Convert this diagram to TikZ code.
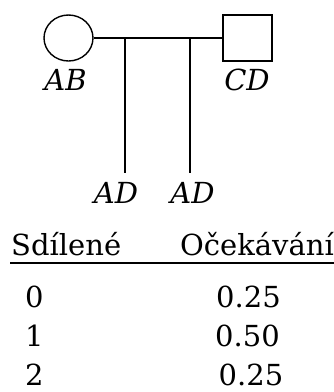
\documentclass[tikz,border=0pt]{standalone}
\usepackage{fontspec}
\setmainfont{DejaVu Serif}
\usetikzlibrary{shapes.geometric}
\tikzset{
  person/.style={draw, line width=1.4pt, inner sep=0pt, minimum width=49pt, minimum height=46pt},
  female/.style={person, ellipse},
  male/.style={person, rectangle},
  link/.style={line width=1.4pt},
  lbl/.style={inner sep=0pt, anchor=base, font=\fontsize{29}{34}\selectfont\itshape},
  txt/.style={inner sep=0pt, font=\fontsize{29}{34}\selectfont},
}
\begin{document}
\begin{tikzpicture}[x=1pt, y=-1pt]
  \useasboundingbox (0,0) rectangle (334,392);
  % parents
  \node[female] (mother) at (68.5,38) {};
  \node[male]   (father) at (247.5,38) {};
  \draw[link] (mother.east) -- (father.west);
  % children hanging from the mating line
  \coordinate (c1top) at (125,38);
  \coordinate (c1end) at (125,173);
  \coordinate (c2top) at (190,38);
  \coordinate (c2end) at (190,173);
  \draw[link] (c1top) -- (c1end);
  \draw[link] (c2top) -- (c2end);
  % genotypes
  \node[lbl] (gAB) at (65.5,90) {AB};
  \node[lbl] (gCD) at (247,90) {CD};
  \node[lbl] (gAD1) at (116,203) {AD};
  \node[lbl] (gAD2) at (192.5,203) {AD};
  % table of shared alleles
  \node[txt, anchor=base west] (h1) at (11,255) {Sdílené};
  \node[txt, anchor=base east] (h2) at (334,255) {Očekávání};
  \coordinate (rl) at (10,263);
  \coordinate (rr) at (334,263);
  \draw[line width=1.6pt] (rl) -- (rr);
  \node[txt, anchor=base west] (s0) at (25,307) {0};
  \node[txt, anchor=base west] (s1) at (25,346) {1};
  \node[txt, anchor=base west] (s2) at (25,385) {2};
  \node[txt, anchor=base] (p0) at (248.5,307) {0.25};
  \node[txt, anchor=base] (p1) at (247.5,346) {0.50};
  \node[txt, anchor=base] (p2) at (251,385) {0.25};
\end{tikzpicture}
\end{document}
